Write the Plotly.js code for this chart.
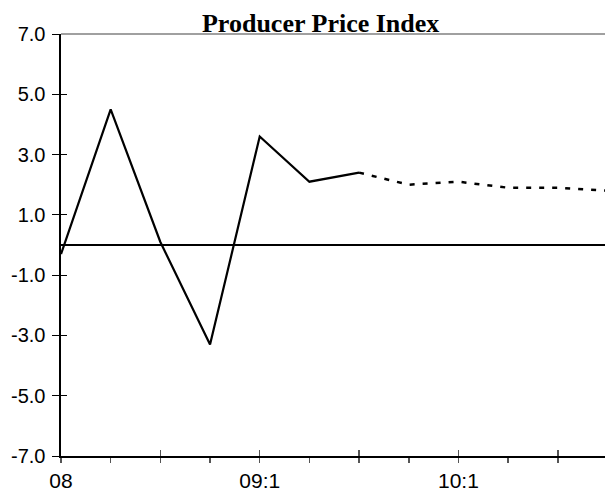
<!DOCTYPE html>
<html>
<head>
<meta charset="utf-8">
<script src="https://cdn.plot.ly/plotly-3.0.1.min.js"></script>
<style>html,body{margin:0;padding:0;background:#fff;}#chart{width:605px;height:500px;}</style>
</head>
<body>
<div id="chart"></div>
<script>
// Quarterly categories, 2008 Q1 .. 2010 Q4
const quarters = ['08:1','08:2','08:3','08:4','09:1','09:2','09:3','09:4','10:1','10:2','10:3','10:4'];
const tickLabels = ['08','','','','09:1','','','','10:1','','',''];
// Actual values (solid line)
const actual = [-0.3, 4.5, 0.1, -3.3, 3.6, 2.1, 2.4, null, null, null, null, null];
// Forecast values (dotted line)
const forecast = [null, null, null, null, null, null, 2.4, 2.0, 2.1, 1.9, 1.9, 1.8];
// Y ticks
const yTicks = [-7, -5, -3, -1, 1, 3, 5, 7];
const yTickLabels = ['-7.0', '-5.0', '-3.0', '-1.0', '1.0', '3.0', '5.0', '7.0'];
const crossTickIdx = [2, 4, 6, 8, 10];

const traces = [
  {x: quarters, y: actual, type: 'scatter', mode: 'lines', line: {color: '#000', width: 2.2}, hoverinfo: 'skip', connectgaps: false},
  {x: quarters, y: forecast, type: 'scatter', mode: 'lines', line: {color: '#000', width: 2.5, dash: '5px,8px'}, hoverinfo: 'skip'},
  {x: [], y: [], xaxis: 'x2', yaxis: 'y2', type: 'scatter', mode: 'lines', hoverinfo: 'skip', showlegend: false}
];

const sans = 'Liberation Sans, Arial, sans-serif';
const layout = {
  width: 605, height: 500,
  margin: {l: 61, r: 0, t: 34, b: 44, pad: 0},
  paper_bgcolor: '#fff', plot_bgcolor: '#fff',
  showlegend: false,
  title: {
    text: '<b>Producer Price Index</b>',
    font: {family: 'Liberation Serif, Times New Roman, serif', size: 26, color: '#000'},
    x: 0.53, xanchor: 'center', xref: 'container',
    y: 1, yref: 'paper', yanchor: 'bottom', pad: {b: 2}
  },
  xaxis: {
    type: 'category', range: [0, 10.95],
    tickmode: 'array', tickvals: quarters, ticktext: tickLabels,
    ticks: 'outside', ticklen: 5, tickwidth: 1.5, tickcolor: '#555',
    showline: true, linecolor: '#000', linewidth: 1.5,
    showgrid: false, zeroline: false,
    tickfont: {family: sans, size: 21, color: '#000'},
    ticklabelstandoff: 0,
    fixedrange: true
  },
  yaxis: {
    range: [-7, 7],
    tickmode: 'array', tickvals: yTicks, ticktext: yTickLabels,
    ticks: 'outside', ticklen: 7, tickwidth: 1, tickcolor: '#000',
    showline: true, linecolor: '#000', linewidth: 2.5,
    showgrid: false,
    zeroline: true, zerolinecolor: '#000', zerolinewidth: 2,
    tickfont: {family: sans, size: 20, color: '#000'},
    ticklabelstandoff: 2,
    fixedrange: true
  },
  xaxis2: {
    overlaying: 'x', anchor: 'y2', range: [0, 10.95],
    tickmode: 'array', tickvals: crossTickIdx,
    ticks: 'inside', ticklen: 6, tickwidth: 1.5, tickcolor: '#555',
    showticklabels: false, showline: false, showgrid: false, zeroline: false,
    fixedrange: true
  },
  yaxis2: {
    overlaying: 'y', anchor: 'x2', range: [-7, 7],
    tickmode: 'array', tickvals: yTicks,
    ticks: 'inside', ticklen: 6, tickwidth: 1, tickcolor: '#000',
    showticklabels: false, showline: false, showgrid: false, zeroline: false,
    fixedrange: true
  },
  shapes: [
    {type: 'line', xref: 'paper', yref: 'paper', x0: 0, x1: 1, y0: 1, y1: 1, line: {color: '#808080', width: 1.5}}
  ]
};

Plotly.newPlot('chart', traces, layout, {displayModeBar: false, staticPlot: true});
</script>
</body>
</html>
